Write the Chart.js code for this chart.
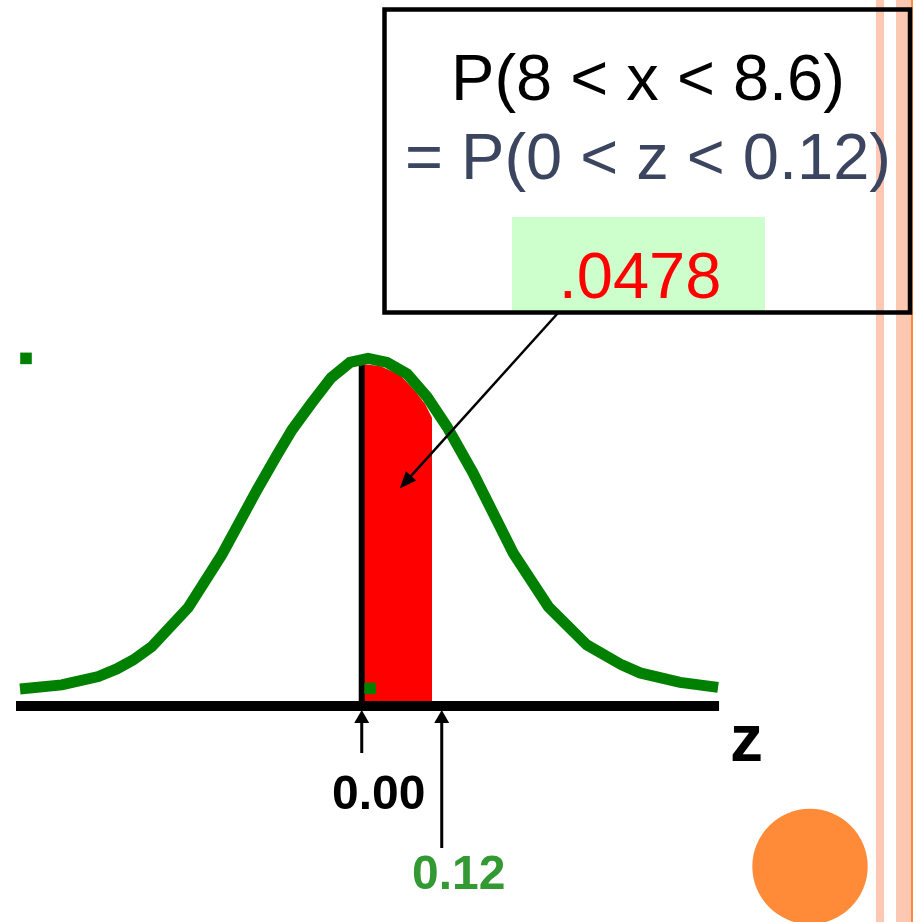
<!DOCTYPE html>
<html>
<head>
<meta charset="utf-8">
<title>P(8 &lt; x &lt; 8.6)</title>
<script src="https://cdn.jsdelivr.net/npm/chart.js@4.4.0/dist/chart.umd.min.js"></script>
<style>
  html, body { margin: 0; padding: 0; background: #fff; }
  #wrap { width: 916px; height: 922px; position: relative; }
</style>
</head>
<body>
<div id="wrap"><canvas id="zChart" width="916" height="922"></canvas></div>
<script>
// Bell curve (z on x, density on y), sampled as a polyline
const curveX = [-0.5126, -0.4500, -0.3951, -0.3675, -0.3426, -0.3150, -0.2601, -0.2096, -0.1575,
  -0.1271, -0.1046, -0.0761, -0.0461, -0.0176, 0.0095, 0.0380, 0.0680, 0.0980, 0.1280, 0.1670,
  0.2274, 0.2799, 0.3375, 0.3900, 0.4175, 0.4775, 0.5345];
const curveY = [0.0036, 0.0084, 0.0184, 0.0276, 0.0384, 0.0543, 0.1013, 0.1649, 0.2417,
  0.2843, 0.3143, 0.3455, 0.3767, 0.3953, 0.4001, 0.3953, 0.3815, 0.3539, 0.3179, 0.2627,
  0.1664, 0.1023, 0.0564, 0.0324, 0.0228, 0.0114, 0.0054];

// Shaded area between z = 0 and z = 0.12
const shadeX = [0, 0.0275, 0.0575, 0.0800, 0.0950, 0.1055];
const shadeY = [0.3935, 0.3911, 0.3803, 0.3611, 0.3455, 0.3287];

// z axis and the centre line
const axisX = [-0.5186, 0.5360];
const axisLevel = -0.0168;
const centerX = [0, 0];
const centerY = [axisLevel, 0.392];

// small square markers
const markerX = [-0.5036, 0.0125];
const markerY = [0.4001, 0.0042];

// marked z values under the axis
const tickValues = [0, 0.12];
const tickLabels = ['0.00', '0.12'];
const tickColors = ['#000000', '#339933'];
const tickArrowEnd = [753, 848];
const tickLabelBase = [809, 889];

const probLines = ['P(8 < x < 8.6)', '= P(0 < z < 0.12)'];
const probValue = '.0478';

const FONT = '"Liberation Sans", Arial, Helvetica, sans-serif';

const toPoints = (xs, ys) => xs.map((x, i) => ({ x, y: ys[i] }));

function arrowHead(ctx, tipX, tipY, angle, len, half) {
  ctx.beginPath();
  ctx.moveTo(tipX, tipY);
  ctx.lineTo(tipX - len * Math.cos(angle) + half * Math.sin(angle),
             tipY - len * Math.sin(angle) - half * Math.cos(angle));
  ctx.lineTo(tipX - len * Math.cos(angle) - half * Math.sin(angle),
             tipY - len * Math.sin(angle) + half * Math.cos(angle));
  ctx.closePath();
  ctx.fill();
}

const slideDecor = {
  id: 'slideDecor',
  beforeDraw(chart) {
    const ctx = chart.ctx;
    ctx.save();
    // right-hand border stripes
    ctx.fillStyle = '#FCC8B2';
    ctx.fillRect(876, 0, 8, 922);
    ctx.fillRect(896, 0, 15, 922);
    ctx.fillStyle = '#FF8A3D';
    ctx.fillRect(911, 0, 2, 922);
    // orange dot
    ctx.fillStyle = '#FF8A38';
    ctx.beginPath();
    ctx.arc(810, 866.5, 57.7, 0, Math.PI * 2);
    ctx.fill();
    ctx.restore();
  },
  afterDatasetsDraw(chart) {
    const ctx = chart.ctx;
    const xs = chart.scales.x;
    const ys = chart.scales.y;
    const axisPx = ys.getPixelForValue(axisLevel);
    ctx.save();

    // tick arrows and labels
    tickValues.forEach((v, i) => {
      const px = xs.getPixelForValue(v);
      ctx.strokeStyle = '#000';
      ctx.fillStyle = '#000';
      ctx.lineWidth = 3;
      ctx.beginPath();
      ctx.moveTo(px, axisPx + 10);
      ctx.lineTo(px, tickArrowEnd[i]);
      ctx.stroke();
      arrowHead(ctx, px, axisPx + 4, -Math.PI / 2, 13, 7.5);
      ctx.font = 'bold 48px ' + FONT;
      ctx.textAlign = 'center';
      ctx.textBaseline = 'alphabetic';
      ctx.fillStyle = tickColors[i];
      ctx.fillText(tickLabels[i], px + 17, tickLabelBase[i]);
    });

    // axis name
    ctx.fillStyle = '#000';
    ctx.font = 'bold 66px ' + FONT;
    ctx.textAlign = 'left';
    ctx.fillText('z', 730, 761);

    // probability box
    ctx.fillStyle = '#CCFFCC';
    ctx.fillRect(512, 217, 253, 94);
    ctx.strokeStyle = '#000';
    ctx.lineWidth = 4.5;
    ctx.strokeRect(384.5, 9.5, 525.5, 303);

    ctx.textAlign = 'center';
    ctx.font = '65px ' + FONT;
    ctx.fillStyle = '#000';
    ctx.fillText(probLines[0], 648, 99.5);
    ctx.fillStyle = '#3C4560';
    ctx.fillText(probLines[1], 648, 179);
    ctx.fillStyle = '#FF0000';
    ctx.fillText(probValue, 640, 297.5);

    // pointer from the box to the shaded area
    const tipX = xs.getPixelForValue(0.057);
    const tipY = ys.getPixelForValue(0.244);
    const ang = Math.atan2(tipY - 313, tipX - 558);
    ctx.strokeStyle = '#000';
    ctx.fillStyle = '#000';
    ctx.lineWidth = 2.5;
    ctx.beginPath();
    ctx.moveTo(558, 313);
    ctx.lineTo(tipX - 12 * Math.cos(ang), tipY - 12 * Math.sin(ang));
    ctx.stroke();
    arrowHead(ctx, tipX, tipY, ang, 17, 7);

    ctx.restore();
  }
};

new Chart(document.getElementById('zChart'), {
  type: 'scatter',
  data: {
    datasets: [
      {
        label: 'markers',
        data: toPoints(markerX, markerY),
        pointStyle: 'rect',
        pointRadius: 8.2,
        pointBorderWidth: 0,
        backgroundColor: '#008000',
        showLine: false,
        order: 0
      },
      {
        label: 'density',
        data: toPoints(curveX, curveY),
        showLine: true,
        borderColor: '#008000',
        borderWidth: 11,
        pointRadius: 0,
        tension: 0,
        fill: false,
        order: 1
      },
      {
        label: 'centre',
        data: toPoints(centerX, centerY),
        showLine: true,
        borderColor: '#000',
        borderWidth: 6,
        pointRadius: 0,
        order: 2
      },
      {
        label: 'axis',
        data: toPoints(axisX, [axisLevel, axisLevel]),
        showLine: true,
        borderColor: '#000',
        borderWidth: 10,
        pointRadius: 0,
        order: 2
      },
      {
        label: 'area',
        data: toPoints(shadeX, shadeY),
        showLine: true,
        borderWidth: 0,
        borderColor: 'rgba(0,0,0,0)',
        backgroundColor: '#FF0000',
        pointRadius: 0,
        fill: { value: axisLevel },
        order: 3
      }
    ]
  },
  options: {
    responsive: false,
    animation: false,
    layout: { padding: 0, autoPadding: false },
    plugins: { legend: { display: false }, tooltip: { enabled: false } },
    scales: {
      x: { type: 'linear', min: -0.5426, max: 0.8314, display: false },
      y: { type: 'linear', min: -0.276, max: 0.83, display: false }
    }
  },
  plugins: [slideDecor]
});
</script>
</body>
</html>
